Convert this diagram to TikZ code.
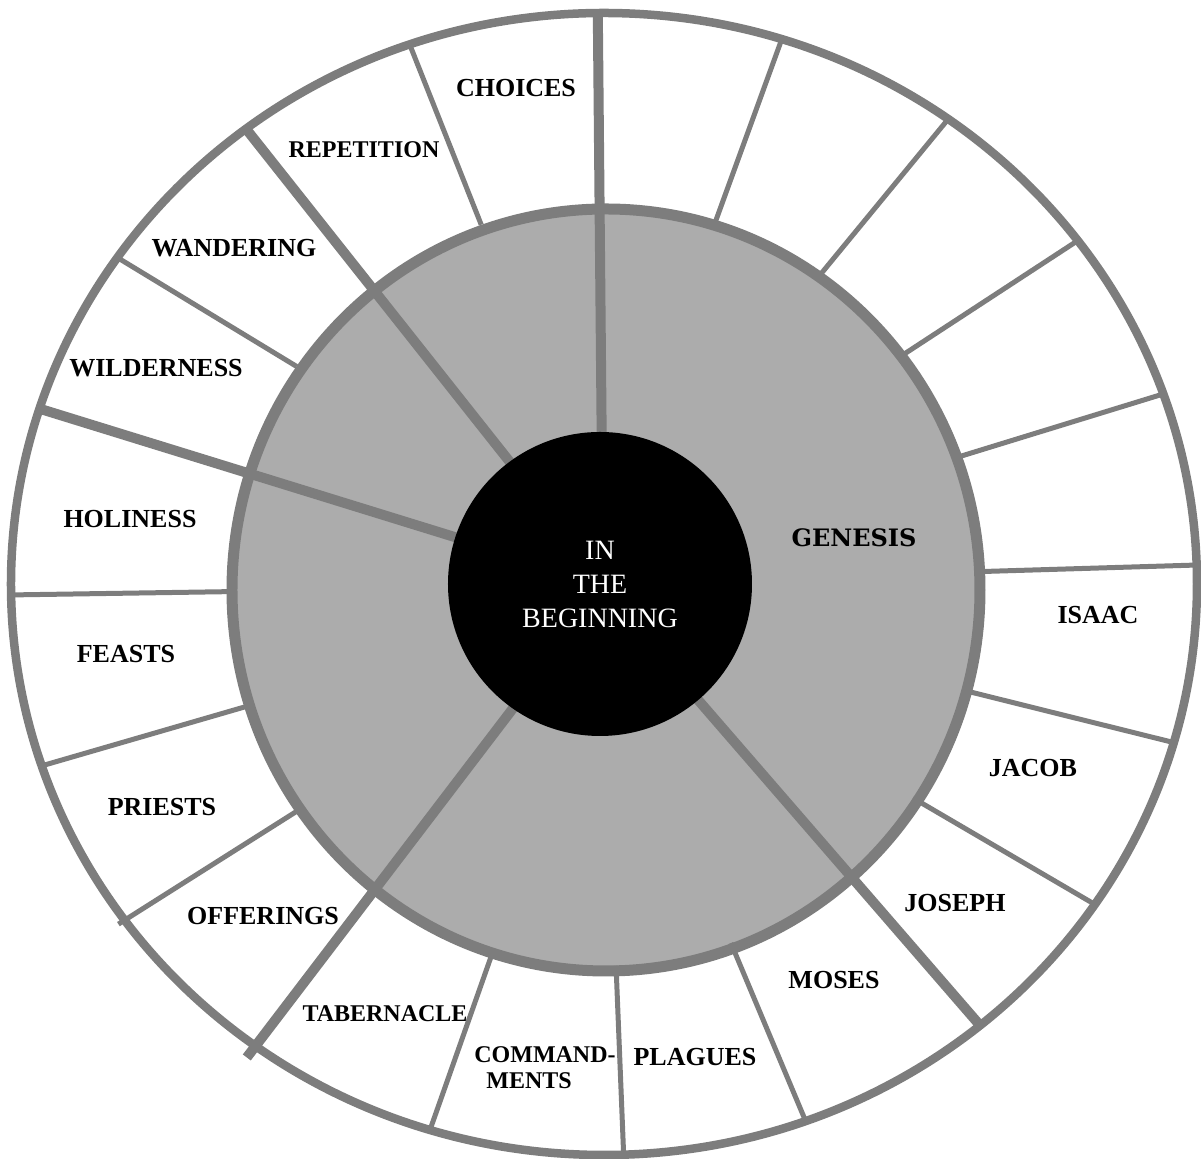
\documentclass[tikz,border=0pt]{standalone}
\usepackage{fontspec}
\setmainfont{Liberation Serif}
\newfontfamily\genesisfont{DejaVu Serif}
\usepackage{tikz}
\usetikzlibrary{positioning}
\definecolor{ringline}{RGB}{125, 125, 125}
\definecolor{ringfill}{RGB}{172, 172, 172}

\begin{document}
\begin{tikzpicture}[
    x=0.5pt, y=0.5pt,
    theme/.style={inner sep=0pt, align=center, font=\fontsize{13}{15}\selectfont\bfseries},
    smalltheme/.style={theme, font=\fontsize{12}{13}\selectfont\bfseries},
    book/.style={inner sep=0pt, font=\genesisfont\bfseries\fontsize{12}{14}\selectfont},
    hub/.style={circle, fill=black, text=white, minimum size=152pt, inner sep=0pt, align=center, font=\fontsize{14}{17}\selectfont},
    spoke/.style={draw=ringline, line width=2.5pt},
    mainspoke/.style={draw=ringline, line width=5pt}
]
    \useasboundingbox (-603,-574) rectangle (598,585);

    \draw[ringline, fill=ringfill, line width=5.5pt] (3,-5) ellipse [x radius=374, y radius=381];

    \foreach \a in {72.5, 54.5, 37, 19.5, 2, -16, -34, -70, -88, -107, -161.5, -179, 145, 109}
        \draw[spoke] (\a:374 and 381) -- (\a:593 and 571);
    \draw[spoke] (-144:374 and 381) -- (-144:599 and 577);
    \foreach \a in {90.5, 127, 162, -50.5}
        \draw[mainspoke] (\a:140) -- (\a:593 and 571);
    \draw[mainspoke] (-126:140) -- (-126:606 and 584);

    \draw[ringline, line width=4.25pt] (1,1) ellipse [x radius=593, y radius=571];

    \node (core) [hub] at (-3,1) {IN\\THE\\BEGINNING};
    \node (genesis) [book] at (251,47) {GENESIS};

    \node (choices) [theme] at (-87,497) {CHOICES};
    \node (repetition) [smalltheme] at (-239,435) {REPETITION};
    \node (wandering) [theme] at (-369,337) {WANDERING};
    \node (wilderness) [theme] at (-447,217) {WILDERNESS};
    \node (holiness) [theme] at (-473,66) {HOLINESS};
    \node (feasts) [theme] at (-477,-69) {FEASTS};
    \node (priests) [theme] at (-441,-222) {PRIESTS};
    \node (offerings) [theme] at (-340,-331) {OFFERINGS};
    \node (tabernacle) [smalltheme] at (-218,-429) {TABERNACLE};
    \node (commandments) [smalltheme, align=left] at (-58,-483) {COMMAND-\\\hspace*{6pt}MENTS};
    \node (plagues) [theme] at (92,-472) {PLAGUES};
    \node (moses) [theme] at (231,-395) {MOSES};
    \node (joseph) [theme] at (352,-318) {JOSEPH};
    \node (jacob) [theme] at (430,-183) {JACOB};
    \node (isaac) [theme] at (495,-30) {ISAAC};
\end{tikzpicture}
\end{document}
